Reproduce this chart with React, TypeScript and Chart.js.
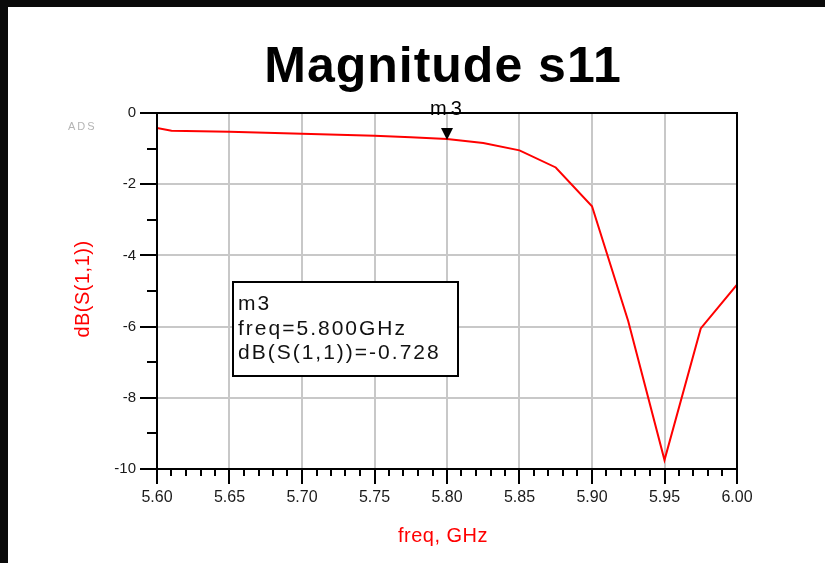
import React, { useEffect, useRef } from 'react';
import { Chart, registerables } from 'chart.js';

Chart.register(...registerables);

// ---- data ----
const freqs = [5.60, 5.61, 5.65, 5.70, 5.75, 5.775, 5.80, 5.825, 5.85, 5.875, 5.90, 5.925, 5.95, 5.975, 6.00];
const s11dB = [-0.42, -0.50, -0.53, -0.58, -0.64, -0.68, -0.728, -0.84, -1.05, -1.53, -2.62, -5.85, -9.75, -6.05, -4.82];
const markerName = 'm3';
const markerFreq = 5.80;
const markerValue = -0.728;
const titleText = 'Magnitude s11';
const xTitle = 'freq, GHz';
const yTitle = 'dB(S(1,1))';
const xMin = 5.60, xMax = 6.00, xStep = 0.05, xMinorStep = 0.01;
const yMin = -10, yMax = 0, yStep = 2, yMinorStep = 1;

const FONT = '"Liberation Sans", Arial, sans-serif';

const adsPlugin = {
  id: 'adsOverlay',
  beforeDraw(chart: any) {
    const ctx = chart.ctx;
    ctx.save();
    ctx.fillStyle = '#0a0a0a';
    ctx.fillRect(0, 0, chart.width, chart.height);
    ctx.fillStyle = '#ffffff';
    ctx.fillRect(8, 7, chart.width - 8, chart.height - 7);
    ctx.restore();
  },
  afterDraw(chart: any) {
    const ctx = chart.ctx;
    const a = chart.chartArea;
    const xs = chart.scales.x;
    const ys = chart.scales.y;
    ctx.save();

    // plot frame
    ctx.strokeStyle = '#000';
    ctx.lineWidth = 2;
    ctx.strokeRect(a.left, a.top, a.right - a.left, a.bottom - a.top);
    ctx.beginPath();
    ctx.moveTo(a.left - 17, a.top);
    ctx.lineTo(a.left, a.top);
    ctx.stroke();

    // minor ticks
    ctx.lineWidth = 2;
    const nX = Math.round((xMax - xMin) / xMinorStep);
    for (let i = 1; i < nX; i++) {
      if (i % Math.round(xStep / xMinorStep) === 0) continue;
      const px = Math.round(xs.getPixelForValue(xMin + i * xMinorStep));
      ctx.beginPath();
      ctx.moveTo(px, a.bottom);
      ctx.lineTo(px, a.bottom + 7);
      ctx.stroke();
    }
    const nY = Math.round((yMax - yMin) / yMinorStep);
    for (let i = 1; i < nY; i++) {
      if (i % Math.round(yStep / yMinorStep) === 0) continue;
      const py = Math.round(ys.getPixelForValue(yMin + i * yMinorStep));
      ctx.beginPath();
      ctx.moveTo(a.left - 10, py);
      ctx.lineTo(a.left, py);
      ctx.stroke();
    }

    // title
    ctx.fillStyle = '#000';
    ctx.font = `bold 50px ${FONT}`;
    ctx.textAlign = 'center';
    ctx.textBaseline = 'alphabetic';
    (ctx as any).letterSpacing = '1px';
    ctx.fillText(titleText, 443, 82);

    // ADS label
    ctx.font = `11px ${FONT}`;
    ctx.fillStyle = '#b4b4b4';
    ctx.textAlign = 'left';
    (ctx as any).letterSpacing = '2px';
    ctx.fillText('ADS', 68, 130);
    (ctx as any).letterSpacing = '0.5px';

    // axis titles
    ctx.fillStyle = '#ff0000';
    ctx.font = `20px ${FONT}`;
    ctx.textAlign = 'center';
    ctx.fillText(xTitle, 443, 542);
    ctx.save();
    ctx.translate(83, 289);
    ctx.rotate(-Math.PI / 2);
    ctx.textBaseline = 'middle';
    ctx.fillText(yTitle, 0, 0);
    ctx.restore();
    (ctx as any).letterSpacing = '0px';

    // marker
    const mx = xs.getPixelForValue(markerFreq);
    const my = ys.getPixelForValue(markerValue);
    ctx.fillStyle = '#000';
    ctx.beginPath();
    ctx.moveTo(mx - 6, my - 11);
    ctx.lineTo(mx + 6, my - 11);
    ctx.lineTo(mx, my + 1);
    ctx.closePath();
    ctx.fill();
    ctx.font = `20px ${FONT}`;
    ctx.textAlign = 'center';
    ctx.textBaseline = 'alphabetic';
    (ctx as any).letterSpacing = '4px';
    ctx.fillText(markerName, mx + 1, 115);

    // marker readout box
    ctx.fillStyle = '#fff';
    ctx.fillRect(233, 282, 225, 94);
    ctx.strokeStyle = '#000';
    ctx.lineWidth = 2;
    ctx.strokeRect(233, 282, 225, 94);
    ctx.fillStyle = '#111';
    ctx.font = `21px ${FONT}`;
    ctx.textAlign = 'left';
    (ctx as any).letterSpacing = '2px';
    ctx.fillText(markerName, 238, 310);
    ctx.fillText(`freq=${markerFreq.toFixed(3)}GHz`, 238, 335);
    ctx.fillText(`dB(S(1,1))=${markerValue.toFixed(3)}`, 238, 359);
    (ctx as any).letterSpacing = '0px';

    ctx.restore();
  },
};

export default function App() {
  const ref = useRef<HTMLCanvasElement | null>(null);
  useEffect(() => {
    document.body.style.margin = '0';
    const canvas = ref.current;
    if (!canvas) return;
    const data = freqs.map((f, i) => ({ x: f, y: s11dB[i] }));
    const chart = new Chart(canvas, {
      type: 'line',
      data: {
        datasets: [
          {
            data,
            borderColor: '#ff0000',
            backgroundColor: '#ff0000',
            borderWidth: 2,
            pointRadius: 0,
            tension: 0,
            fill: false,
          },
        ],
      },
      options: {
        responsive: false,
        animation: false,
        devicePixelRatio: 1,
        layout: { padding: { top: 113, right: 88, left: 112, bottom: 54 } },
        plugins: { legend: { display: false }, tooltip: { enabled: false }, title: { display: false } },
        scales: {
          x: {
            type: 'linear',
            min: xMin,
            max: xMax,
            afterFit(scale: any) { scale.height = 40; },
            ticks: {
              stepSize: xStep,
              color: '#1a1a1a',
              font: { family: FONT, size: 16 },
              padding: 4,
              maxRotation: 0,
              autoSkip: false,
              callback: (v: any) => Number(v).toFixed(2),
            },
            grid: {
              color: '#c8c8c8',
              lineWidth: 2,
              tickColor: '#000',
              tickLength: 15,
              tickWidth: 2,
            },
            border: { color: '#000', width: 2 },
          },
          y: {
            type: 'linear',
            min: yMin,
            max: yMax,
            afterFit(scale: any) { scale.width = 45; },
            ticks: {
              stepSize: yStep,
              color: '#1a1a1a',
              font: { family: FONT, size: 15 },
              padding: 4,
              callback: (v: any) => String(v),
            },
            grid: {
              color: '#c8c8c8',
              lineWidth: 2,
              tickColor: '#000',
              tickLength: 17,
              tickWidth: 2,
            },
            border: { color: '#000', width: 2 },
          },
        },
      },
      plugins: [adsPlugin],
    });
    return () => chart.destroy();
  }, []);
  return (
    <div style={{ position: 'fixed', left: 0, top: 0, width: 825, height: 563 }}>
      <canvas ref={ref} width={825} height={563} style={{ display: 'block' }} />
    </div>
  );
}
